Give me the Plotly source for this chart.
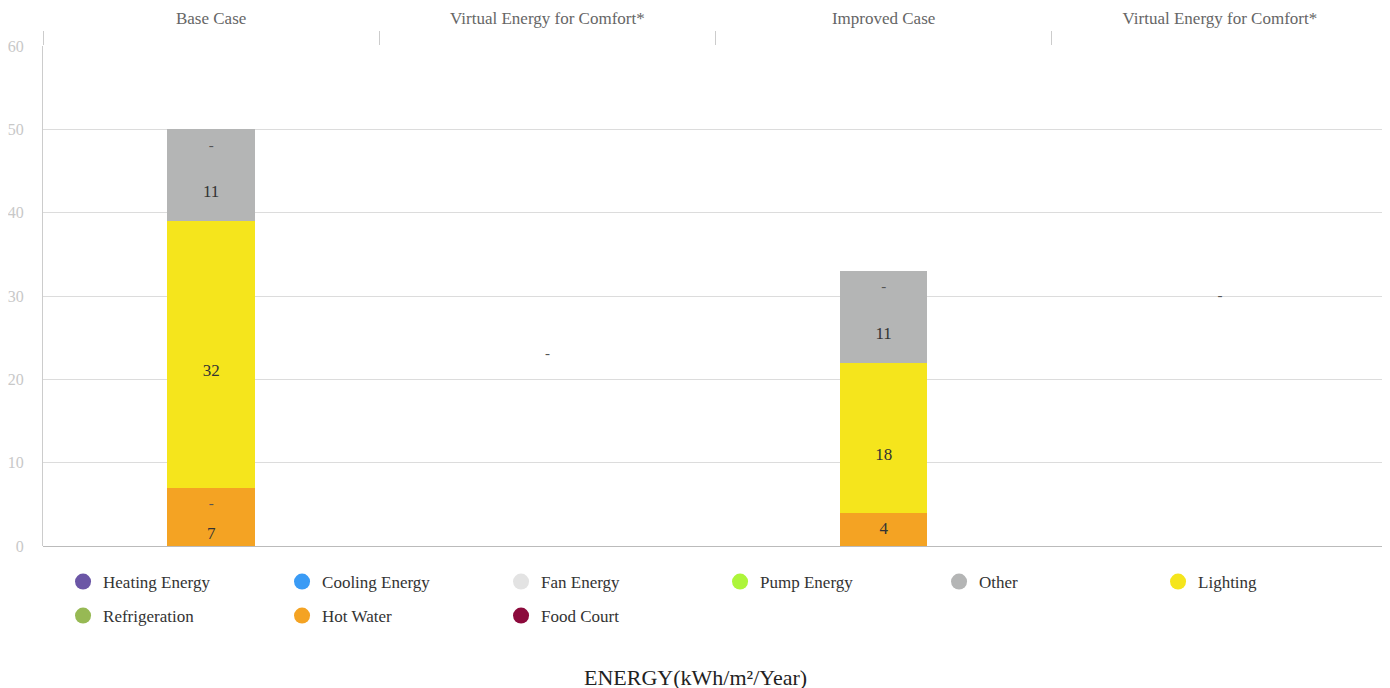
import plotly.graph_objects as go

categories = ["Base Case", "Virtual Energy for Comfort*", "Improved Case", "Virtual Energy for Comfort*"]
series_names = ["Heating Energy", "Cooling Energy", "Fan Energy", "Pump Energy", "Other",
                "Lighting", "Refrigeration", "Hot Water", "Food Court"]
series_colors = ["#6b56a6", "#3a9bf5", "#e3e3e3", "#adf53a", "#b4b5b5",
                 "#f5e51c", "#97b954", "#f4a323", "#8c0a3c"]

heating = [0, 0, 0, 0]
cooling = [0, 0, 0, 0]
fan = [0, 0, 0, 0]
pump = [0, 0, 0, 0]
other = [11, 0, 11, 0]
lighting = [32, 0, 18, 0]
refrigeration = [0, 0, 0, 0]
hot_water = [7, 0, 4, 0]
food_court = [0, 0, 0, 0]

# stacking order bottom -> top
stack_order = ["Hot Water", "Lighting", "Other"]
values = {"Heating Energy": heating, "Cooling Energy": cooling, "Fan Energy": fan,
          "Pump Energy": pump, "Other": other, "Lighting": lighting,
          "Refrigeration": refrigeration, "Hot Water": hot_water, "Food Court": food_court}

# small "-" labels seen on the chart
dash_cat = [0, 0, 1, 2, 3]
dash_y = [48, 5.0, 23, 31.1, 30]

FONT = "Liberation Serif"
color_of = dict(zip(series_names, series_colors))
x_idx = list(range(len(categories)))

fig = go.Figure()
base = [0] * len(categories)
lab_x, lab_y, lab_t, lab_pos = [], [], [], []
for name in stack_order:
    vals = values[name]
    fig.add_trace(go.Bar(
        x=x_idx, y=vals, name=name, marker=dict(color=color_of[name], line=dict(width=0)),
        width=0.26, showlegend=False, hoverinfo="skip"))
    for i, v in enumerate(vals):
        if v:
            lab_x.append(i)
            lab_y.append(base[i] + v / 2)
            lab_t.append(str(v))
            lab_pos.append("bottom center" if v >= 6 else "middle center")
        base[i] += v

fig.add_trace(go.Scatter(
    x=lab_x, y=lab_y, mode="markers+text", text=lab_t, textposition=lab_pos,
    marker=dict(size=13, opacity=0),
    textfont=dict(family=FONT, size=17, color="#333"), showlegend=False, hoverinfo="skip"))

fig.add_trace(go.Scatter(
    x=dash_cat, y=dash_y, mode="text", text=["-"] * len(dash_y),
    textfont=dict(family=FONT, size=15, color="#555"), showlegend=False, hoverinfo="skip"))

# legend entries (circles), two rows
for i, name in enumerate(series_names):
    fig.add_trace(go.Scatter(
        x=[None], y=[None], mode="markers", name=name,
        marker=dict(symbol="circle", size=16, color=color_of[name]),
        legend="legend" if i < 6 else "legend2"))

legend_common = dict(orientation="h", entrywidth=174, entrywidthmode="pixels",
                     font=dict(family=FONT, size=17, color="#333"),
                     itemsizing="trace", bgcolor="rgba(0,0,0,0)", xanchor="left",
                     yanchor="middle", traceorder="normal")

fig.update_layout(
    width=1390, height=688,
    margin=dict(l=35, r=10, t=38, b=150, autoexpand=False),
    paper_bgcolor="white", plot_bgcolor="white",
    barmode="stack",
    showlegend=True,
    legend=dict(x=0.0149, y=-0.072, **legend_common),
    legend2=dict(x=0.0149, y=-0.14, **legend_common),
    xaxis=dict(
        side="top", range=[-0.5, 3.5], tickmode="array", tickvals=x_idx, ticktext=categories,
        ticks="", showgrid=False, zeroline=False, showline=False, automargin=False,
        ticklabelstandoff=18,
        tickfont=dict(family=FONT, size=17, color="#666"),
        minor=dict(ticks="outside", tick0=-0.5, dtick=1, ticklen=14,
                   tickcolor="#cccccc", tickwidth=1, showgrid=False),
    ),
    yaxis=dict(
        range=[0, 60], dtick=10, showgrid=True, gridcolor="#dcdcdc", gridwidth=1,
        zeroline=True, zerolinecolor="#bbbbbb", zerolinewidth=1,
        showline=True, linecolor="#cccccc", linewidth=1, automargin=False,
        ticks="", ticklabelstandoff=15,
        tickfont=dict(family=FONT, size=16, color="#c8c8c8"),
    ),
    annotations=[dict(text="ENERGY(kWh/m²/Year)", xref="paper", yref="paper",
                      x=0.485, y=-0.262, yanchor="middle", showarrow=False,
                      font=dict(family=FONT, size=22, color="#222"))],
)

fig.write_html("out.html")
